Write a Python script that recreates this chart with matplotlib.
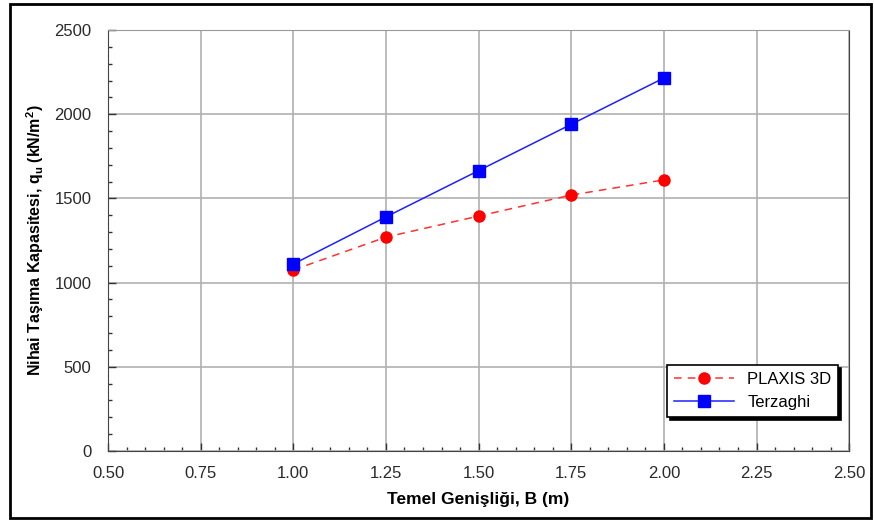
import matplotlib.pyplot as plt
from matplotlib.patches import Rectangle
from matplotlib.ticker import MultipleLocator

plt.rcParams['font.family'] = ['Liberation Sans', 'DejaVu Sans']
plt.rcParams['mathtext.fontset'] = 'custom'
plt.rcParams['mathtext.rm'] = 'Liberation Sans:bold'
plt.rcParams['mathtext.default'] = 'rm'

B = [1.00, 1.25, 1.50, 1.75, 2.00]
plaxis = [1075, 1270, 1395, 1520, 1610]
terzaghi = [1110, 1390, 1665, 1940, 2215]

fig = plt.figure(figsize=(8.74, 5.21), dpi=100)
ax = fig.add_axes([0.1236, 0.1344, 0.848, 0.808])

ax.plot(B, plaxis, '--', color='#ff3030', lw=1.1, marker='o', ms=8,
        mfc='red', mec='red', label='PLAXIS 3D', dashes=(5, 4))
ax.plot(B, terzaghi, '-', color='#2020ff', lw=1.1, marker='s', ms=8,
        mfc='blue', mec='blue', label='Terzaghi')

ax.set_xlim(0.5, 2.5)
ax.set_ylim(0, 2500)
ax.xaxis.set_major_locator(MultipleLocator(0.25))
ax.xaxis.set_minor_locator(MultipleLocator(0.05))
ax.yaxis.set_major_locator(MultipleLocator(500))
ax.yaxis.set_minor_locator(MultipleLocator(100))
ax.xaxis.set_major_formatter(lambda v, p: f'{v:.2f}')
ax.tick_params(which='both', direction='in', colors='#333333', labelcolor='#2a2a2a',
               labelsize=12)
ax.tick_params(which='major', length=6, width=1)
ax.tick_params(which='minor', length=3, width=1)
ax.tick_params(axis='x', pad=11)
ax.tick_params(axis='y', pad=12)
ax.grid(True, which='major', color='#b0b0b0', lw=1.2)
for s in ax.spines.values():
    s.set_color('#444444')
ax.spines['top'].set_color('#999999')

ax.set_xlabel('Temel Genişliği, B (m)', fontsize=12.5, fontweight='bold', labelpad=8)
ax.set_ylabel('Nihai Taşıma Kapasitesi, q$_{u}$ (kN/m$^{2}$)', fontsize=11.5,
              fontweight='bold', labelpad=6)

leg = ax.legend(loc='lower right', bbox_to_anchor=(0.985, 0.081), borderaxespad=0,
                fancybox=False, shadow={'color': 'black', 'alpha': 1},
                edgecolor='black', framealpha=1, fontsize=12,
                handlelength=3.6, borderpad=0.4, labelspacing=0.5)
leg.get_frame().set_linewidth(1.2)

fig.patches.append(Rectangle((10 / 874, 3 / 521), 861 / 874, 514 / 521,
                             transform=fig.transFigure, fill=False,
                             edgecolor='black', lw=2))

fig.savefig('out.png', dpi=100)
